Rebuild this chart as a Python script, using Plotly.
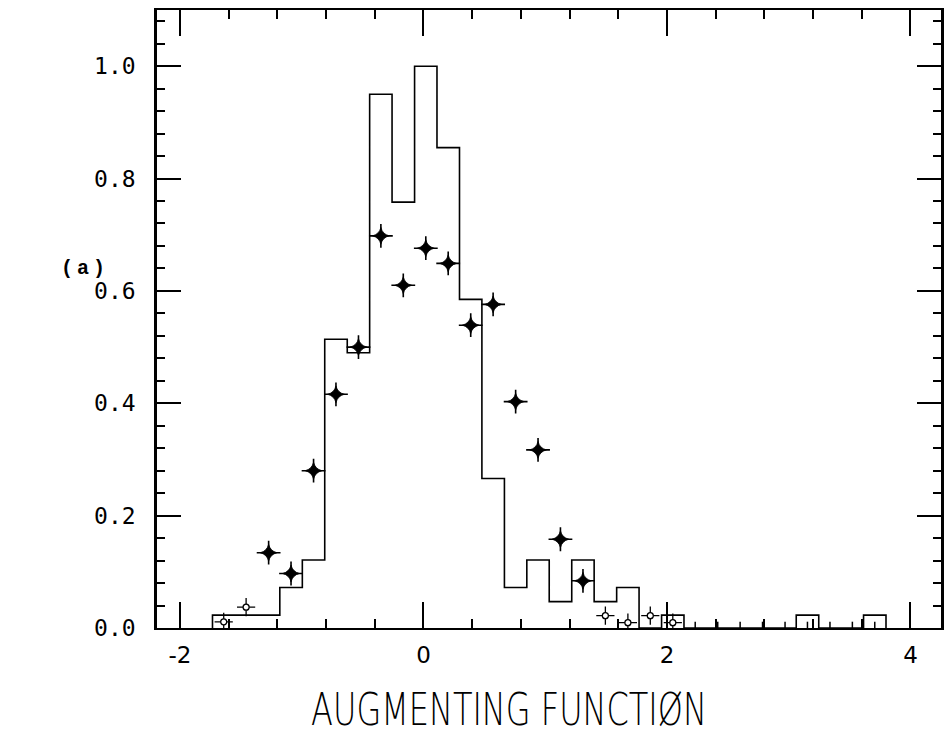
import plotly.graph_objects as go

# Bin centres of the augmenting-function histogram (common to the histogram and the points)
bin_centers = [-1.641, -1.457, -1.272, -1.088, -0.903, -0.719, -0.534, -0.350, -0.166, 0.019,
               0.203, 0.388, 0.572, 0.757, 0.941, 1.125, 1.310, 1.494, 1.679, 1.863,
               2.048, 2.232, 2.417, 2.601, 2.785, 2.970, 3.154, 3.339, 3.523, 3.707]
bin_width = 0.1844

# Normalised histogram contents
hist_values = [0.023, 0.023, 0.023, 0.072, 0.121, 0.514, 0.490, 0.950, 0.758, 1.000,
               0.855, 0.585, 0.266, 0.072, 0.121, 0.047, 0.121, 0.047, 0.072, 0.000,
               0.023, 0.000, 0.000, 0.000, 0.000, 0.000, 0.023, 0.000, 0.000, 0.023]

# Comparison points (star markers)
point_values = [0.011, 0.037, 0.134, 0.097, 0.280, 0.416, 0.500, 0.698, 0.610, 0.676,
                0.649, 0.539, 0.576, 0.403, 0.317, 0.158, 0.084, 0.022, 0.0095, 0.022,
                0.0095, 0.0, 0.0, 0.0, 0.0, 0.0, 0.0, 0.0, 0.0, 0.0]

x_tick_vals = [-2, 0, 2, 4]
x_tick_text = ["-2", "0", "2", "4"]
y_tick_vals = [0.0, 0.2, 0.4, 0.6, 0.8, 1.0]
y_tick_text = ["0.0", "0.2", "0.4", "0.6", "0.8", "1.0"]

# Step outline of the histogram built from the bin edges
half = bin_width / 2
step_x = [bin_centers[0] - half] + [c - half for c in bin_centers] + [bin_centers[-1] + half]
step_y = [0.0] + list(hist_values) + [0.0]

fig = go.Figure()
fig.add_trace(go.Scatter(
    x=step_x, y=step_y, mode="lines", line=dict(color="black", width=1.6, shape="hv"),
    hoverinfo="skip", showlegend=False, cliponaxis=False,
))

# Split the points: filled stars, small open stars, and empty bins (short spikes)
big_x = [c for c, v in zip(bin_centers, point_values) if v >= 0.05]
big_y = [v for v in point_values if v >= 0.05]
small_x = [c for c, v in zip(bin_centers, point_values) if 0 < v < 0.05]
small_y = [v for v in point_values if 0 < v < 0.05]
zero_x = [c for c, v in zip(bin_centers, point_values) if v == 0]
zero_y = [v for v in point_values if v == 0]

# Thin cross arms under a compact four-point star
fig.add_trace(go.Scatter(
    x=big_x, y=big_y, mode="markers", opacity=1,
    marker=dict(symbol="cross-thin", size=17, color="black", line=dict(color="black", width=1.6)),
    showlegend=False, hoverinfo="skip",
))
fig.add_trace(go.Scatter(
    x=big_x, y=big_y, mode="markers", opacity=1,
    marker=dict(symbol="star-diamond", size=12, color="black", opacity=1,
                line=dict(color="black", width=0.8)),
    showlegend=False,
))
fig.add_trace(go.Scatter(
    x=small_x, y=small_y, mode="markers", opacity=1,
    marker=dict(symbol="cross-thin", size=13, color="black", line=dict(color="black", width=1.3)),
    showlegend=False, hoverinfo="skip",
))
fig.add_trace(go.Scatter(
    x=small_x, y=small_y, mode="markers", opacity=1,
    marker=dict(symbol="circle", size=6, color="white", opacity=1,
                line=dict(color="black", width=1.3)),
    showlegend=False,
))
fig.add_trace(go.Scatter(
    x=zero_x, y=zero_y, mode="markers", opacity=1,
    marker=dict(symbol="line-ns", size=9, color="black", line=dict(color="black", width=1.5)),
    showlegend=False,
))

fig.update_xaxes(
    range=[-2.189, 4.251], showline=True, linewidth=2, linecolor="black", mirror="allticks",
    ticks="inside", ticklen=26, tickwidth=1.5, tickcolor="black",
    tickvals=x_tick_vals, ticktext=x_tick_text, ticklabelstandoff=5,
    tickfont=dict(family="DejaVu Sans", size=23, color="black"),
    minor=dict(dtick=0.4, tick0=0, ticks="inside", ticklen=9, tickwidth=1.5, tickcolor="black"),
    showgrid=False, zeroline=False, fixedrange=True,
)
fig.update_yaxes(
    range=[0, 1.1], showline=True, linewidth=2.5, linecolor="black", mirror="allticks",
    ticks="inside", ticklen=24, tickwidth=1.5, tickcolor="black",
    tickvals=y_tick_vals, ticktext=y_tick_text, ticklabelstandoff=14,
    tickfont=dict(family="DejaVu Sans Mono", size=23, color="black"),
    minor=dict(dtick=0.04, tick0=0, ticks="inside", ticklen=8, tickwidth=1.5, tickcolor="black"),
    showgrid=False, zeroline=False, fixedrange=True,
)

fig.add_annotation(
    text="AUGMENTING FUNCTIØN", xref="paper", yref="paper", x=0.4485, y=-0.1330,
    showarrow=False,
    font=dict(family="DejaVu Sans", size=32, color="black", weight=200),
    xanchor="center", yanchor="middle",
)
fig.add_annotation(
    text="(\u2009a\u2009)", xref="paper", yref="paper", x=-0.094, y=0.581,
    showarrow=False, font=dict(family="Liberation Mono", size=20, color="black", weight="bold"),
    xanchor="center", yanchor="middle",
)

fig.update_layout(
    width=950, height=735, margin=dict(l=157, r=6, t=10, b=107),
    paper_bgcolor="white", plot_bgcolor="white",
)

# Tall, narrow lettering for the axis caption (plotter style)
post = """
var gd = document.getElementById('{plot_id}');
function stretchCaption() {
  gd.querySelectorAll('text.annotation-text').forEach(function (t) {
    if (t.textContent.indexOf('AUGMENTING') >= 0) {
      t.style.transformBox = 'fill-box';
      t.style.transformOrigin = '50% 50%';
      t.style.transform = 'scaleY(1.4)';
    }
  });
}
stretchCaption();
gd.on('plotly_afterplot', stretchCaption);
"""

fig.write_html("out.html", post_script=post)
